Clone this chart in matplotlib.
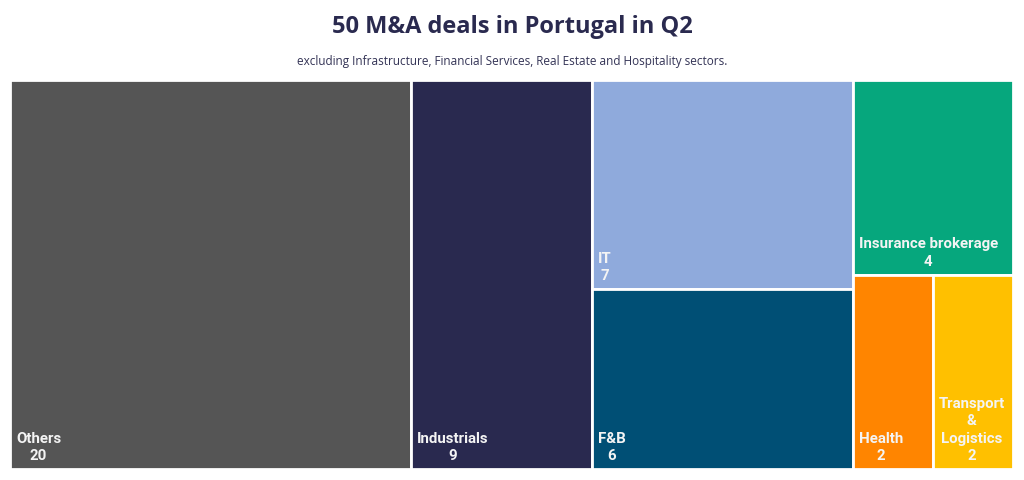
import matplotlib.pyplot as plt
from matplotlib.patches import Rectangle

# sector deal counts
sectors = ["Others", "Industrials", "IT", "F&B", "Insurance brokerage", "Health", "Transport\n&\nLogistics"]
deals = [20, 9, 7, 6, 4, 2, 2]
colors = ["#555555", "#29294f", "#8faadc", "#004f75", "#06a77d", "#ff8500", "#ffc000"]

# treemap grouping: columns -> rows -> cells (indices into sectors)
columns = [[[0]], [[1]], [[2], [3]], [[4], [5, 6]]]


def layout(columns, values, width, height):
    total = sum(values)
    rects = {}
    x = 0.0
    for col in columns:
        col_sum = sum(values[i] for row in col for i in row)
        col_w = width * col_sum / total
        y = height
        for row in col:
            row_sum = sum(values[i] for i in row)
            row_h = height * row_sum / col_sum
            y -= row_h
            cx = x
            for i in row:
                cw = col_w * values[i] / row_sum
                rects[i] = (cx, y, cw, row_h)
                cx += cw
        x += col_w
    return rects


fig = plt.figure(figsize=(10.24, 4.81), dpi=100)
ax = fig.add_axes([10 / 1024, 1 - 470 / 481, 1003 / 1024, 389 / 481])
W, H = 1003.0, 389.0
rects = layout(columns, deals, W, H)

for i, (x, y, w, h) in rects.items():
    ax.add_patch(Rectangle((x, y), w, h, facecolor=colors[i], edgecolor="white", linewidth=2))
    ax.text(x + 6, y + 7, f"{sectors[i]}\n{deals[i]}", color="#f4f4f4", fontsize=10.8,
            fontweight="bold", family=["Roboto", "DejaVu Sans"], ha="left", va="bottom",
            multialignment="center", linespacing=1.3)

ax.set_xlim(0, W)
ax.set_ylim(0, H)
ax.axis("off")

fig.text(0.5, 1 - 27 / 481, "50 M&A deals in Portugal in Q2", ha="center", va="center",
         fontsize=17, fontweight="bold", color="#2a2a4f", family=["Open Sans", "DejaVu Sans"])
fig.text(0.5, 1 - 62 / 481, "excluding Infrastructure, Financial Services, Real Estate and Hospitality sectors.",
         ha="center", va="center", fontsize=8.5, color="#333355", family=["Open Sans", "DejaVu Sans"])

fig.savefig("out.png", dpi=100)
